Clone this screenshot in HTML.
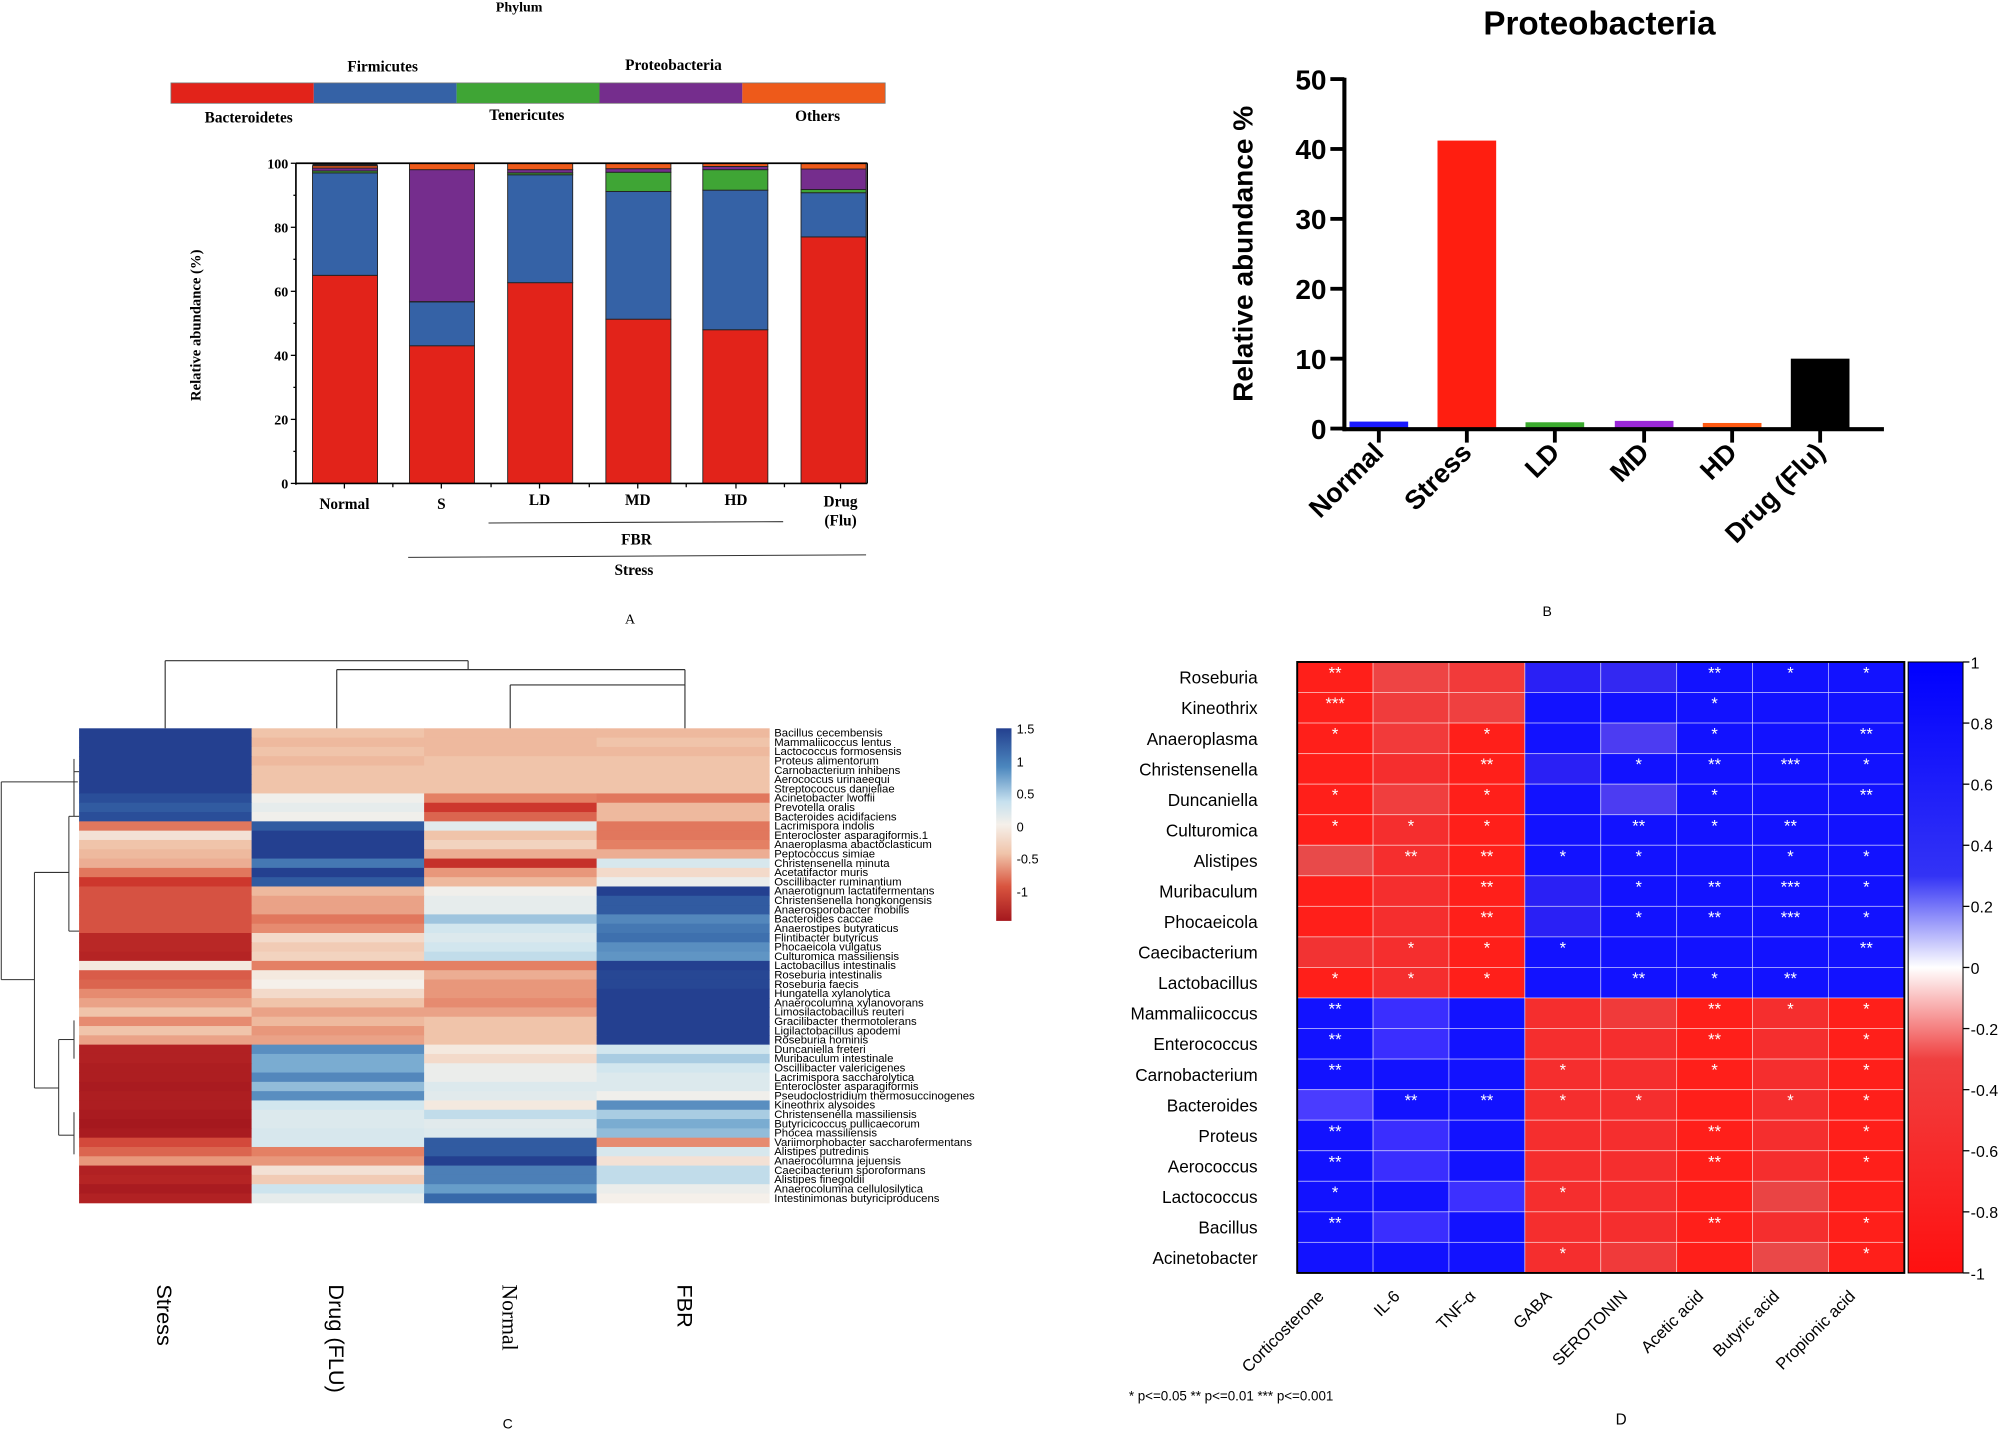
<!DOCTYPE html>
<html><head><meta charset="utf-8">
<style>html,body{margin:0;padding:0;background:#fff;}svg{display:block;}</style>
</head><body>
<svg id="s" xmlns="http://www.w3.org/2000/svg" width="2000" height="1432" viewBox="0 0 1568 1122.7" preserveAspectRatio="none">
<rect width="1568" height="1123" fill="#fff"/>
<g id="g"></g>
</svg>
<script>
var out=[];
function R(x,y,w,h,f,st){out.push('<rect x="'+x+'" y="'+y+'" width="'+w+'" height="'+h+'" fill="'+f+'"'+(st?' stroke="'+st+'" stroke-width="0.7"':'')+'/>');}
function L(x1,y1,x2,y2,c,w){out.push('<line x1="'+x1+'" y1="'+y1+'" x2="'+x2+'" y2="'+y2+'" stroke="'+(c||'#000')+'" stroke-width="'+(w||1)+'"/>');}
function T(x,y,s,o){o=o||{};out.push('<text x="'+x+'" y="'+y+'" font-family="'+(o.f||'Liberation Sans')+'" font-size="'+(o.sz||12)+'" '+(o.b?'font-weight="bold" ':'')+'text-anchor="'+(o.a||'middle')+'" fill="'+(o.c||'#000')+'"'+(o.r!=null?' transform="rotate('+o.r+' '+x+' '+y+')"':'')+'>'+s+'</text>');}
var SER='Liberation Serif';
// ===== Panel A =====
T(407,9,'Phylum',{f:SER,b:1,sz:11});
var lc=['#E2231A','#3562A6','#3FA535','#752D8D','#EE5A1A'];
for(var i=0;i<5;i++)R(134+i*112,65,112,16,lc[i]);
out.push('<rect x="134" y="65" width="560" height="16" fill="none" stroke="#777" stroke-width="0.6"/>');
T(300,56,'Firmicutes',{f:SER,b:1,sz:12});T(528,55,'Proteobacteria',{f:SER,b:1,sz:12});
T(195,96,'Bacteroidetes',{f:SER,b:1,sz:12});T(413,94,'Tenericutes',{f:SER,b:1,sz:12});T(641,95,'Others',{f:SER,b:1,sz:12});
var y0=379,y1=128,sc=(y0-y1)/100;
function Y(v){return y0-v*sc;}
var bars=[[245,[65,97,97.6,98.5,99.2],'Normal'],[321,[43,56.7,56.8,98,100],'S'],[398,[62.7,96.4,97,98,100],'LD'],[475,[51.3,91.2,97.2,98.3,100],'MD'],[551,[48,91.6,98,99,100],'HD'],[628,[77,90.8,91.8,98.2,100],'Drug']];
bars.forEach(function(b){var prev=0;for(var k=0;k<5;k++){var v=b[1][k];R(b[0],Y(v),51,Y(prev)-Y(v),lc[k],'#222');prev=v;}if(prev<100)R(b[0],Y(100),51,Y(prev)-Y(100),'#222');});
L(232,128,232,380,'#000',1.3);L(232,379,680,379,'#000',1.3);L(680,128,680,379,'#000',1);L(232,128,680,128,'#000',1.3);
for(var v=0;v<=100;v+=20){L(228,Y(v),232,Y(v));T(226,Y(v)+4,v,{f:SER,b:1,sz:11,a:'end'});}
for(var v=10;v<100;v+=20)L(230,Y(v),232,Y(v));
[270,346,423,500,577,659].forEach(function(x){L(x,379,x,383);});
[308,385,462,538,615].forEach(function(x){L(x,379,x,382);});
T(270,399,'Normal',{f:SER,b:1,sz:12});T(346,399,'S',{f:SER,b:1,sz:12});T(423,396,'LD',{f:SER,b:1,sz:12});T(500,396,'MD',{f:SER,b:1,sz:12});T(577,396,'HD',{f:SER,b:1,sz:12});
T(659,397,'Drug',{f:SER,b:1,sz:12});T(659,412,'(Flu)',{f:SER,b:1,sz:12});
L(383,410,614,409,'#333',0.8);T(499,427,'FBR',{f:SER,b:1,sz:12});
L(320,437,679,435,'#333',0.8);T(497,451,'Stress',{f:SER,b:1,sz:12});
T(157,255,'Relative abundance (%)',{f:SER,b:1,sz:11.5,r:-90});
T(494,489,'A',{f:SER,sz:11});
// ===== Panel B =====
T(1254,27,'Proteobacteria',{b:1,sz:26});
var by0=336,bs=(336-62)/50;
function BY(v){return by0-v*bs;}
var bb=[[1058,1,'#1A1AFF','Normal'],[1127,41.2,'#FF1E10','Stress'],[1196,0.9,'#3BAA2E','LD'],[1266,1.1,'#9A28D8','MD'],[1335,0.8,'#FF5A12','HD'],[1404,10,'#000','Drug (Flu)']];
bb.forEach(function(b){R(b[0],BY(b[1]),46,BY(0)-BY(b[1]),b[2]);});
L(1054,61,1054,338,'#000',3.2);L(1052.5,336.5,1477,336.5,'#000',3.2);
for(var v=0;v<=50;v+=10){L(1043,BY(v),1054,BY(v),'#000',3);T(1040,BY(v)+8,v,{b:1,sz:22,a:'end'});}
bb.forEach(function(b){var cx=b[0]+23;L(cx,336,cx,347,'#000',3);T(cx+5,356,b[3],{b:1,sz:21,a:'end',r:-45});});
T(982,199,'Relative abundance %',{b:1,sz:22,r:-90});
T(1213,483,'B',{sz:11});
// ===== Panel C =====
function mix(a,b,t){var r=[];for(var i=0;i<3;i++)r.push(Math.round(a[i]+(b[i]-a[i])*t));return 'rgb('+r.join(',')+')';}
var stops=[[-1.5,[165,24,30]],[-1.0,[205,55,45]],[-0.6,[228,128,100]],[-0.3,[240,196,170]],[0,[245,240,234]],[0.4,[205,228,238]],[0.8,[110,164,205]],[1.2,[55,105,170]],[1.5,[36,64,144]]];
function hcol(v){if(v<=stops[0][0])return mix(stops[0][1],stops[0][1],0);for(var i=0;i<stops.length-1;i++){if(v<=stops[i+1][0]){return mix(stops[i][1],stops[i+1][1],(v-stops[i][0])/(stops[i+1][0]-stops[i][0]));}}return mix(stops[8][1],stops[8][1],0);}
var rows=[
['Bacillus cecembensis',1.5,-0.3,-0.35,-0.35],['Mammaliicoccus lentus',1.5,-0.35,-0.35,-0.3],['Lactococcus formosensis',1.5,-0.3,-0.35,-0.35],['Proteus alimentorum',1.5,-0.35,-0.3,-0.3],['Carnobacterium inhibens',1.5,-0.3,-0.3,-0.3],['Aerococcus urinaeequi',1.5,-0.3,-0.3,-0.3],['Streptococcus danieliae',1.5,-0.3,-0.3,-0.3],['Acinetobacter lwoffii',1.4,0.05,-0.6,-0.65],['Prevotella oralis',1.3,0.15,-1.0,-0.35],['Bacteroides acidifaciens',1.4,0.05,-0.75,-0.35],
['Lacrimispora indolis',-0.65,1.3,0.2,-0.65],['Enterocloster asparagiformis.1',-0.1,1.5,-0.3,-0.65],['Anaeroplasma abactoclasticum',-0.3,1.5,-0.2,-0.6],['Peptococcus simiae',-0.35,1.5,-0.4,-0.4],['Christensenella minuta',-0.4,1.1,-1.1,0.3],['Acetatifactor muris',-0.65,1.5,-0.5,-0.15],['Oscillibacter ruminantium',-1.0,1.3,-0.35,0.1],
['Anaerotignum lactatifermentans',-0.85,-0.35,0.05,1.5],['Christensenella hongkongensis',-0.85,-0.45,0.15,1.3],['Anaerosporobacter mobilis',-0.85,-0.45,0.15,1.3],['Bacteroides caccae',-0.85,-0.65,0.6,1.0],['Anaerostipes butyraticus',-0.85,-0.55,0.35,1.1],['Flintibacter butyricus',-1.25,-0.15,0.25,1.15],['Phocaeicola vulgatus',-1.25,-0.25,0.35,0.95],['Culturomica massiliensis',-1.3,-0.2,0.45,0.9],
['Lactobacillus intestinalis',-0.05,-0.6,-0.6,1.5],['Roseburia intestinalis',-0.8,-0.05,-0.4,1.45],['Roseburia faecis',-0.75,0.0,-0.5,1.45],['Hungatella xylanolytica',-0.55,-0.15,-0.5,1.5],['Anaerocolumna xylanovorans',-0.45,-0.3,-0.55,1.5],['Limosilactobacillus reuteri',-0.3,-0.45,-0.45,1.5],['Gracilibacter thermotolerans',-0.55,-0.35,-0.3,1.5],['Ligilactobacillus apodemi',-0.3,-0.5,-0.3,1.5],['Roseburia hominis',-0.45,-0.45,-0.3,1.5],
['Duncaniella freteri',-1.35,0.95,-0.05,0.35],['Muribaculum intestinale',-1.35,0.75,-0.15,0.55],['Oscillibacter valericigenes',-1.4,0.75,0.1,0.35],['Lacrimispora saccharolytica',-1.4,1.0,0.1,0.25],['Enterocloster asparagiformis',-1.45,0.65,0.25,0.25],['Pseudoclostridium thermosuccinogenes',-1.4,0.95,0.2,0.05],['Kineothrix alysoides',-1.4,0.35,-0.05,0.95],['Christensenella massiliensis',-1.45,0.25,0.45,0.55],['Butyricicoccus pullicaecorum',-1.5,0.25,0.2,0.75],['Phocea massiliensis',-1.45,0.3,0.25,0.65],
['Variimorphobacter saccharofermentans',-0.9,0.3,1.3,-0.55],['Alistipes putredinis',-0.75,-0.6,1.3,0.3],['Anaerocolumna jejuensis',-0.5,-0.5,1.5,-0.1],['Caecibacterium sporoformans',-1.35,-0.1,1.05,0.45],['Alistipes finegoldii',-1.3,-0.25,1.05,0.45],['Anaerocolumna cellulosilytica',-1.45,0.4,0.85,0.1],['Intestinimonas butyriciproducens',-1.35,0.15,1.2,0.0]];
var cx0=62,cw=135.25,cy0=571,ch=372/rows.length;
rows.forEach(function(r,i){for(var j=0;j<4;j++)R((cx0+j*cw).toFixed(2),(cy0+i*ch).toFixed(2),(cw+0.4).toFixed(2),(ch+0.4).toFixed(2),hcol(r[j+1]));T(607,(cy0+i*ch+ch-0.8).toFixed(2),r[0],{sz:8.9,a:'start'});});
L(129.5,571,129.5,518,'#333',0.9);L(129.5,518,367,518,'#333',0.9);L(367,518,367,525,'#333',0.9);
L(264,525,537,525,'#333',0.9);L(264,525,264,571,'#333',0.9);L(400,537,537,537,'#333',0.9);L(400,537,400,571,'#333',0.9);L(537,537,537,571,'#333',0.9);L(537,525,537,537,'#333',0.9);
var dl=[[1,613,1,768],[1,613,61,613],[1,768,27,768],[27,684,27,853],[27,684,54,684],[27,853,46,853],
[54,640,54,730],[54,640,62,640],[54,730,62,730],[58,605,62,605],[58,595,58,640],
[46,815,46,890],[46,815,58,815],[46,890,58,890],[58,800,58,830],[58,872,58,905]];
dl.forEach(function(d){L(d[0],d[1],d[2],d[3],'#333',0.8);});
out.push('<defs><linearGradient id="cb" x1="0" y1="0" x2="0" y2="1"><stop offset="0" stop-color="#24408F"/><stop offset="0.2" stop-color="#4B87BE"/><stop offset="0.38" stop-color="#C6E0EE"/><stop offset="0.5" stop-color="#F5F0EA"/><stop offset="0.65" stop-color="#F0C4AA"/><stop offset="0.82" stop-color="#D9553F"/><stop offset="1" stop-color="#A5181E"/></linearGradient>'+
'<linearGradient id="db" x1="0" y1="0" x2="0" y2="1"><stop offset="0" stop-color="#0000FF"/><stop offset="0.35" stop-color="#3333F5"/><stop offset="0.5" stop-color="#FFFFFF"/><stop offset="0.65" stop-color="#F04040"/><stop offset="1" stop-color="#FF1010"/></linearGradient></defs>');
R(781,571,12,151,'url(#cb)');
[['1.5',571],['1',597],['0.5',622],['0',648],['-0.5',673],['-1',699]].forEach(function(t){T(797,t[1]+4,t[0],{sz:10,a:'start'});});
T(123,1007,'Stress',{sz:17,a:'start',r:90});T(258,1007,'Drug (FLU)',{sz:17,a:'start',r:90});T(394,1007,'Normal',{sz:17,a:'start',r:90,f:SER});T(531,1007,'FBR',{sz:17,a:'start',r:90});
T(398,1120,'C',{sz:11});
// ===== Panel D =====
var dr=['Roseburia','Kineothrix','Anaeroplasma','Christensenella','Duncaniella','Culturomica','Alistipes','Muribaculum','Phocaeicola','Caecibacterium','Lactobacillus','Mammaliicoccus','Enterococcus','Carnobacterium','Bacteroides','Proteus','Aerococcus','Lactococcus','Bacillus','Acinetobacter'];
var dc=['Corticosterone','IL-6','TNF-\u03b1','GABA','SEROTONIN','Acetic acid','Butyric acid','Propionic acid'];
var stars=[
['**','','','','','**','*','*'],['***','','','','','*','',''],['*','','*','','','*','','**'],['','','**','','*','**','***','*'],['*','','*','','','*','','**'],['*','*','*','','**','*','**',''],['','**','**','*','*','','*','*'],['','','**','','*','**','***','*'],['','','**','','*','**','***','*'],['','*','*','*','','','','**'],['*','*','*','','**','*','**',''],
['**','','','','','**','*','*'],['**','','','','','**','','*'],['**','','','*','','*','','*'],['','**','**','*','*','','*','*'],['**','','','','','**','','*'],['**','','','','','**','','*'],['*','','','*','','','',''],['**','','','','','**','','*'],['','','','*','','','','*']];
var light={'0,1':'#EE4444','0,2':'#F23A3A','1,1':'#F03C3C','1,2':'#EF4040','2,1':'#F23A3A','4,1':'#F03E3E','0,3':'#2A20F5','0,4':'#3328F2','2,4':'#4C3CF2','4,4':'#4C3CF2','6,0':'#E84A4A','3,3':'#2A20F5','7,3':'#2A20F5','8,3':'#2A20F5','9,0':'#F23333',
'14,0':'#4A3CFF','17,2':'#3D30FF','11,1':'#3A2EFF','12,1':'#3A2EFF','15,1':'#3A2EFF','16,1':'#3A2EFF','18,1':'#3A2EFF','11,4':'#F03A3A','17,6':'#EA4444','19,6':'#EA4848','19,4':'#F03A3A'};
var dx0=1017,dw=59.5,dy0=519,dh=23.95;
for(var i=0;i<20;i++){for(var j=0;j<8;j++){var isTop=i<11,isLeft=j<3;var red=(isTop&&isLeft)||(!isTop&&!isLeft);var c=light[i+','+j]||(red?(j==5||j==0||j==7||j==2?'#FF1F1A':'#F52E2E'):'#1212FF');
R(dx0+j*dw,dy0+i*dh,dw,dh,c,'#ffffff80');
if(stars[i][j])T(dx0+j*dw+dw/2,dy0+i*dh+13,stars[i][j],{sz:13,c:'#fff'});}
T(986,dy0+i*dh+17,dr[i],{sz:13.5,a:'end'});}
out.push('<rect x="1017" y="519" width="476" height="479" fill="none" stroke="#000" stroke-width="1.5"/>');
R(1496,519,43,479,'url(#db)');
out.push('<rect x="1496" y="519" width="43" height="479" fill="none" stroke="#000" stroke-width="0.8"/>');
var tk=[['1',0],['0.8',.1],['0.6',.2],['0.4',.3],['0.2',.4],['0',.5],['-0.2',.6],['-0.4',.7],['-0.6',.8],['-0.8',.9],['-1',1]];
tk.forEach(function(t){var y=519+t[1]*479;L(1539,y,1544,y);T(1545,y+5,t[0],{sz:12.5,a:'start'});});
dc.forEach(function(c,j){var x=dx0+j*dw+dw/2-8;T(x,1017,c,{sz:13,a:'end',r:-45});});
T(885,1098,'* p&lt;=0.05  ** p&lt;=0.01  *** p&lt;=0.001',{sz:10.5,a:'start'});
T(1271,1117,'D',{sz:12});
document.getElementById('g').innerHTML=out.join('');
</script>
</body></html>
